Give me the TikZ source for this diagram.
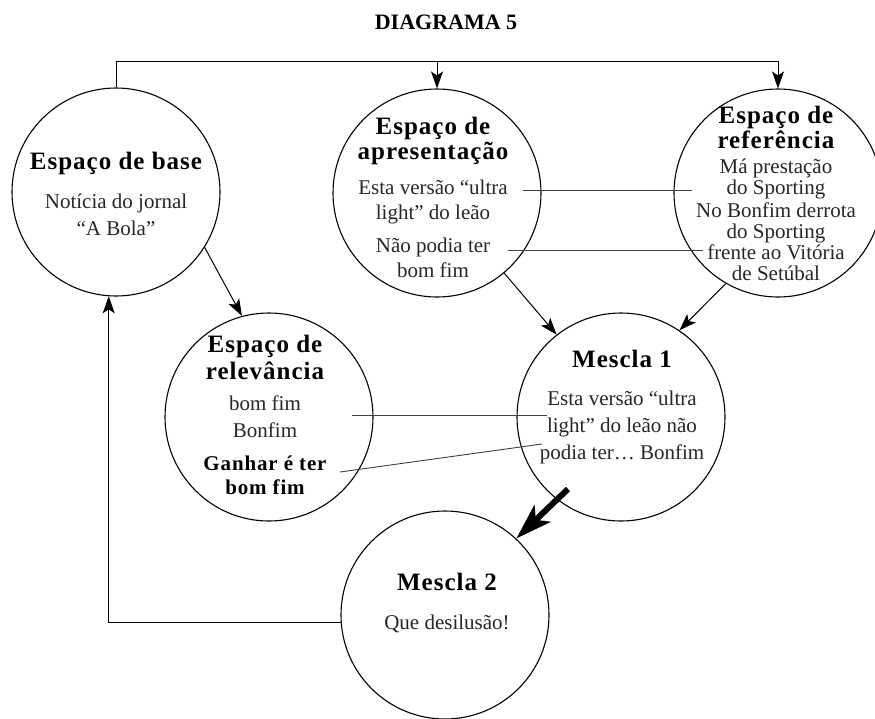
\documentclass[tikz,border=0pt]{standalone}
\usepackage{fontspec}
\setmainfont{Liberation Serif}
\newfontfamily\hdfont{Liberation Serif}[LetterSpace=4.0]
\usetikzlibrary{arrows.meta}
\begin{document}
\begin{tikzpicture}[x=1pt,y=-1pt,
  circ/.style={circle,draw,line width=1.1pt,minimum size=208pt,inner sep=0pt},
  hd/.style={anchor=mid,inner sep=0pt,font=\hdfont\fontsize{25}{28}\selectfont\bfseries},
  tx/.style={anchor=mid,inner sep=0pt,font=\fontsize{21}{25}\selectfont,text=black!85},
  bx/.style={anchor=mid,inner sep=0pt,font=\hdfont\fontsize{21}{25}\selectfont\bfseries},
  arr/.style={line width=1pt,-{Stealth[length=17pt,width=12pt,inset=4pt]}},
  plainline/.style={line width=1pt},
  link/.style={line width=0.9pt,black!75},
  fat/.style={line width=6pt,-{Stealth[length=36pt,width=23pt,inset=9pt]}}
]
\useasboundingbox (0,0) rectangle (875,718);

% title
\node[anchor=mid,inner sep=0pt,font=\fontsize{22}{26}\selectfont\bfseries] (title) at (446,27) {DIAGRAMA 5};

% circles
\node[circ] (base) at (116,192) {};
\node[circ] (apr)  at (437,193) {};
\node[circ] (ref)  at (778,193) {};
\node[circ] (rel)  at (269,417) {};
\node[circ] (m1)   at (621,417) {};
\node[circ] (m2)   at (445,615) {};

% base text
\node[hd] (b1) at (116,167) {Espaço de base};
\node[tx] (b2) at (116,206) {Notícia do jornal};
\node[tx] (b3) at (116,233) {“A Bola”};

% apresentacao text
\node[hd] (p1) at (433,132) {Espaço de};
\node[hd] (p2) at (433,157) {apresentação};
\node[tx] (p3) at (433,192) {Esta versão “ultra};
\node[tx] (p4) at (433,217) {light” do leão};
\node[tx] (p5) at (433,250) {Não podia ter};
\node[tx] (p6) at (433,275) {bom fim};

% referencia text
\node[hd] (r1) at (776,121) {Espaço de};
\node[hd] (r2) at (776,146) {referência};
\node[tx] (r3) at (776,171) {Má prestação};
\node[tx] (r4) at (776,192) {do Sporting};
\node[tx] (r5) at (776,215) {No Bonfim derrota};
\node[tx] (r6) at (776,236) {do Sporting};
\node[tx] (r7) at (776,257) {frente ao Vitória};
\node[tx] (r8) at (776,278) {de Setúbal};

% relevancia text
\node[hd] (v1) at (265,350) {Espaço de};
\node[hd] (v2) at (265,377) {relevância};
\node[tx] (v3) at (265,408) {bom fim};
\node[tx] (v4) at (265,435) {Bonfim};
\node[bx] (v5) at (265,468) {Ganhar é ter};
\node[bx] (v6) at (265,492) {bom fim};

% mescla 1 text
\node[hd] (k1) at (622,365) {Mescla 1};
\node[tx] (k2) at (622,403) {Esta versão “ultra};
\node[tx] (k3) at (622,430) {light” do leão não};
\node[tx] (k4) at (622,457) {podia ter… Bonfim};

% mescla 2 text
\node[hd] (q1) at (447,588) {Mescla 2};
\node[tx] (q2) at (447,627) {Que desilusão!};

% top distribution line
\coordinate (tl) at (116,61);
\draw[plainline] (base.north) -- (tl) -- (tl -| ref.north);
\draw[arr] (tl -| apr.north) -- (apr.north);
\draw[arr] (tl -| ref.north) -- (ref.north);

% arrows
\draw[arr] (base.-32) -- (rel.105);
\draw[arr] (apr.-50) -- (m1.128);
\draw[arr] (ref.-120) -- (m1.56);
\draw[arr] (m2.184) -| (base.266);
\coordinate (ts) at (568,489);
\draw[fat] (ts) -- (m2.47);

% text links
\coordinate (a1) at (523,190); \coordinate (a2) at (692,190);
\coordinate (c1) at (508,250); \coordinate (c2) at (703,250);
\coordinate (d1) at (352,415); \coordinate (d2) at (547,415);
\coordinate (e1) at (340,472); \coordinate (e2) at (542,444);
\draw[link] (a1) -- (a2);
\draw[link] (c1) -- (c2);
\draw[link] (d1) -- (d2);
\draw[link] (e1) -- (e2);
\end{tikzpicture}
\end{document}
